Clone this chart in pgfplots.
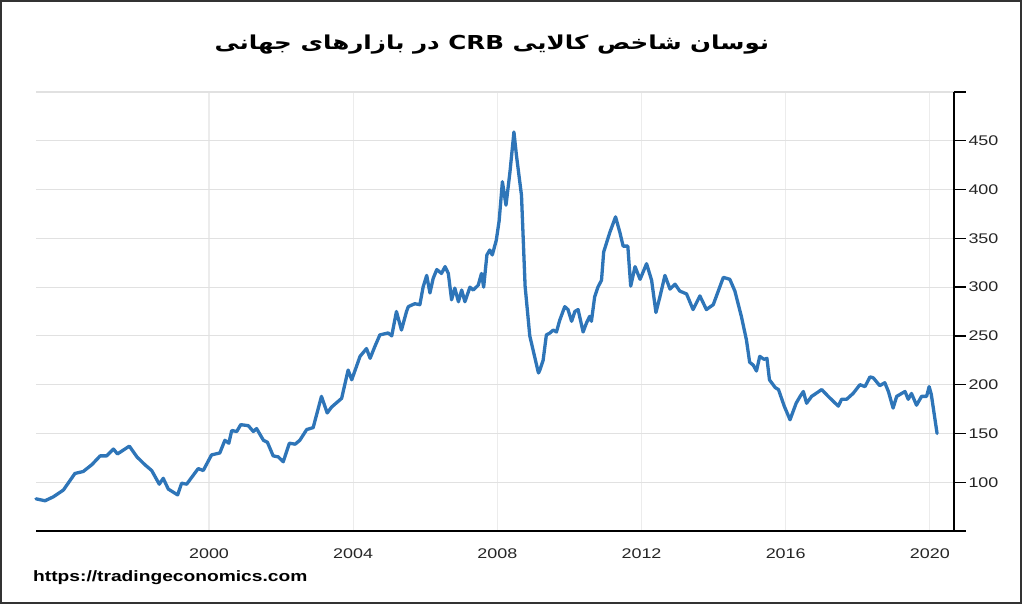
\documentclass[border=0pt]{standalone}
\usepackage{fontspec}
\usepackage{pgfplots}
\pgfplotsset{compat=1.18}
\setmainfont{Liberation Sans}[FakeStretch=1.28]
\newfontfamily\arabicfont[Script=Arabic,FakeStretch=1.28]{DejaVu Sans}
\TeXXeTstate=1
\definecolor{linec}{RGB}{46,117,184}
\definecolor{gridc}{RGB}{225,225,225}
\definecolor{vgridc}{RGB}{236,236,236}
\pgfplotstableread{
x y
1995.20 83
1995.45 81
1995.68 85
1995.96 92
1996.28 109
1996.51 111
1996.75 118
1996.98 127
1997.16 127
1997.35 134
1997.46 129
1997.79 137
1998.00 126
1998.22 118
1998.41 112
1998.62 98
1998.73 104
1998.87 93
1999.13 87
1999.24 99
1999.38 98
1999.70 114
1999.84 112
2000.07 128
2000.30 130
2000.44 143
2000.55 140
2000.63 153
2000.77 152
2000.88 159
2001.09 158
2001.23 152
2001.32 155
2001.51 143
2001.62 141
2001.78 127
2001.92 126
2002.06 121
2002.23 140
2002.39 139
2002.52 143
2002.71 154
2002.89 156
2003.12 188
2003.28 171
2003.40 177
2003.68 186
2003.86 215
2003.96 205
2004.19 229
2004.37 237
2004.47 227
2004.60 239
2004.74 251
2004.97 253
2005.07 250
2005.20 275
2005.34 256
2005.48 275
2005.53 280
2005.71 283
2005.85 282
2005.94 300
2006.04 312
2006.13 294
2006.22 309
2006.32 318
2006.45 314
2006.55 321
2006.64 314
2006.73 287
2006.82 299
2006.92 285
2007.01 297
2007.10 285
2007.24 300
2007.33 297
2007.47 302
2007.56 314
2007.62 300
2007.71 333
2007.79 338
2007.86 333
2007.97 348
2008.05 368
2008.14 408
2008.24 384
2008.35 418
2008.46 459
2008.53 435
2008.67 394
2008.77 301
2008.90 250
2009.14 212
2009.18 215
2009.27 225
2009.36 251
2009.46 253
2009.55 256
2009.64 254
2009.73 266
2009.87 280
2009.96 277
2010.06 265
2010.15 275
2010.24 277
2010.38 254
2010.47 263
2010.56 270
2010.61 265
2010.70 290
2010.79 300
2010.89 307
2010.95 336
2011.12 356
2011.28 372
2011.40 356
2011.49 342
2011.62 342
2011.70 301
2011.82 321
2011.96 308
2012.14 324
2012.28 307
2012.40 274
2012.51 290
2012.65 312
2012.79 298
2012.93 303
2013.06 296
2013.25 293
2013.43 277
2013.62 291
2013.80 277
2013.99 282
2014.27 310
2014.45 308
2014.59 296
2014.77 270
2014.91 246
2015.00 223
2015.10 220
2015.19 214
2015.28 229
2015.40 226
2015.48 227
2015.55 205
2015.71 197
2015.80 195
2015.96 178
2016.12 164
2016.29 181
2016.40 188
2016.49 193
2016.58 181
2016.72 188
2017.00 195
2017.18 188
2017.46 178
2017.55 185
2017.69 185
2017.87 191
2018.06 200
2018.20 198
2018.34 208
2018.43 207
2018.61 199
2018.75 202
2018.85 193
2018.98 176
2019.08 188
2019.31 193
2019.40 185
2019.49 191
2019.63 179
2019.77 188
2019.91 188
2019.98 198
2020.04 190
2020.20 150
}\crbdata
\begin{document}
\begin{tikzpicture}[x=1pt,y=1pt]
\useasboundingbox (0,0) rectangle (1024,-605);
\fill[white] (0,0) rectangle (1024,-605);
\draw[black!80,line width=1.5pt] (1,-1) rectangle (1021,-603);
\begin{axis}[
  at={(36pt,-531pt)}, anchor=south west,
  scale only axis, width=918pt, height=439pt,
  xmin=1995.20, xmax=2020.67, ymin=50, ymax=500,
  axis x line*=bottom, axis y line*=right,
  axis line style={black, line width=1.3pt},
  xtick={2000,2004,2008,2012,2016,2020},
  xticklabels={2000,2004,2008,2012,2016,2020},
  ytick={50,100,...,500},
  yticklabels={,100,150,200,250,300,350,400,450,},
  xtick style={draw=none},
  ytick style={black, line width=1.3pt},
  tick align=outside, major tick length=12pt,
  ymajorgrids, xmajorgrids,
  y grid style={gridc, line width=1.2pt},
  x grid style={vgridc, line width=1.2pt},
  tick label style={font=\fontsize{14}{14}\selectfont, text=black!85},
  yticklabel style={xshift=-1pt},
  xticklabel style={yshift=-2pt},
  clip=false,
]
\addplot[linec, line width=3.3pt, line join=round, line cap=round] table[x=x,y=y]{\crbdata};
\end{axis}
\node at (492,-45) {\arabicfont\bfseries\fontsize{19.2}{19.2}\selectfont\beginR نوسان شاخص کالایی CRB در بازارهای جهانی\endR};
\node[anchor=base west, inner sep=0pt] at (33,-581) {\bfseries\fontsize{15}{15}\selectfont https://tradingeconomics.com};
\end{tikzpicture}
\end{document}
